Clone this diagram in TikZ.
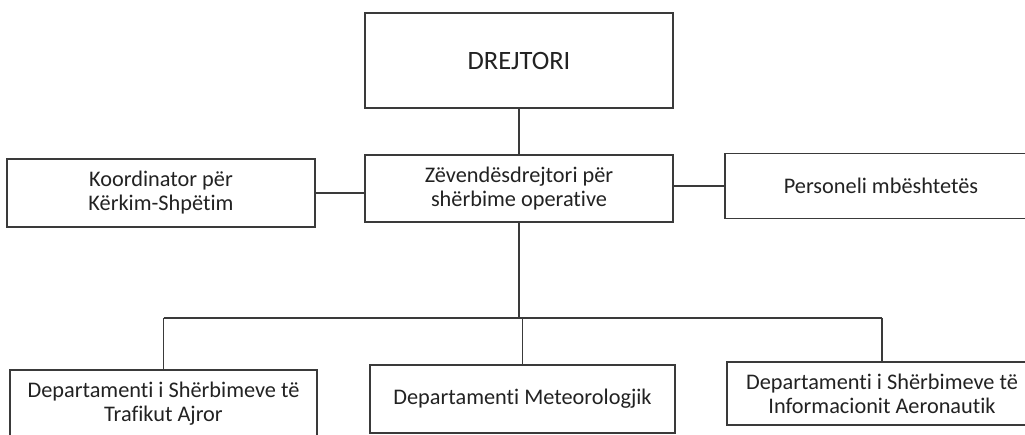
\documentclass[tikz,border=0pt]{standalone}
\usepackage{fontspec}
\setmainfont{Carlito}[Ligatures=NoCommon]
\definecolor{ink}{HTML}{222222}
\definecolor{rule}{HTML}{3A3A3A}
\begin{document}
\begin{tikzpicture}[x=1pt,y=-1pt,
  unit/.style={draw=rule,line width=1.3pt,fill=white,text=ink,align=center,
    inner sep=0pt,font=\fontsize{22.3}{24}\selectfont},
  head/.style={unit,font=\fontsize{26.5}{30}\selectfont},
  link/.style={draw=rule,line width=1.3pt}]
  \path[use as bounding box,fill=white] (0,0) rectangle (1025,435);
  \clip (0,0) rectangle (1025,435);

  % top level
  \node[head,minimum width=308,minimum height=95] (dir) at (519,60.5) {DREJTORI};
  % deputy and the two side units
  \node[unit,minimum width=308,minimum height=67] (mid) at (519,188.5)
    {Zëvendësdrejtori për\\shërbime operative};
  \node[unit,minimum width=308,minimum height=68] (koord) at (161,193)
    {Koordinator për\\Kërkim-Shpëtim};
  \node[unit,minimum width=312,minimum height=65] (pers) at (881,186)
    {Personeli mbështetës};
  % departments
  \node[unit,minimum width=307,minimum height=68] (dep1) at (163.5,404)
    {Departamenti i Shërbimeve të\\Trafikut Ajror};
  \node[unit,minimum width=305,minimum height=68] (met) at (522.5,399)
    {\raisebox{-6pt}{Departamenti Meteorologjik}};
  \node[unit,minimum width=310,minimum height=63] (dep3) at (882,393.5)
    {Departamenti i Shërbimeve të\\Informacionit Aeronautik};

  \coordinate (bus) at (519,318);

  % connectors
  \draw[link] (dir.south) -- (mid.north);
  \draw[link] (koord.east) -- (koord.east -| mid.west);
  \draw[link] (pers.west) -- (pers.west -| mid.east);
  \draw[link] (mid.south) -- (bus);
  \draw[link] (dep1.north |- bus) -- (dep3.north |- bus);
  \draw[link] (dep1.north |- bus) -- (dep1.north);
  \draw[link] (met.north |- bus) -- (met.north);
  \draw[link] (dep3.north |- bus) -- (dep3.north);
\end{tikzpicture}
\end{document}
